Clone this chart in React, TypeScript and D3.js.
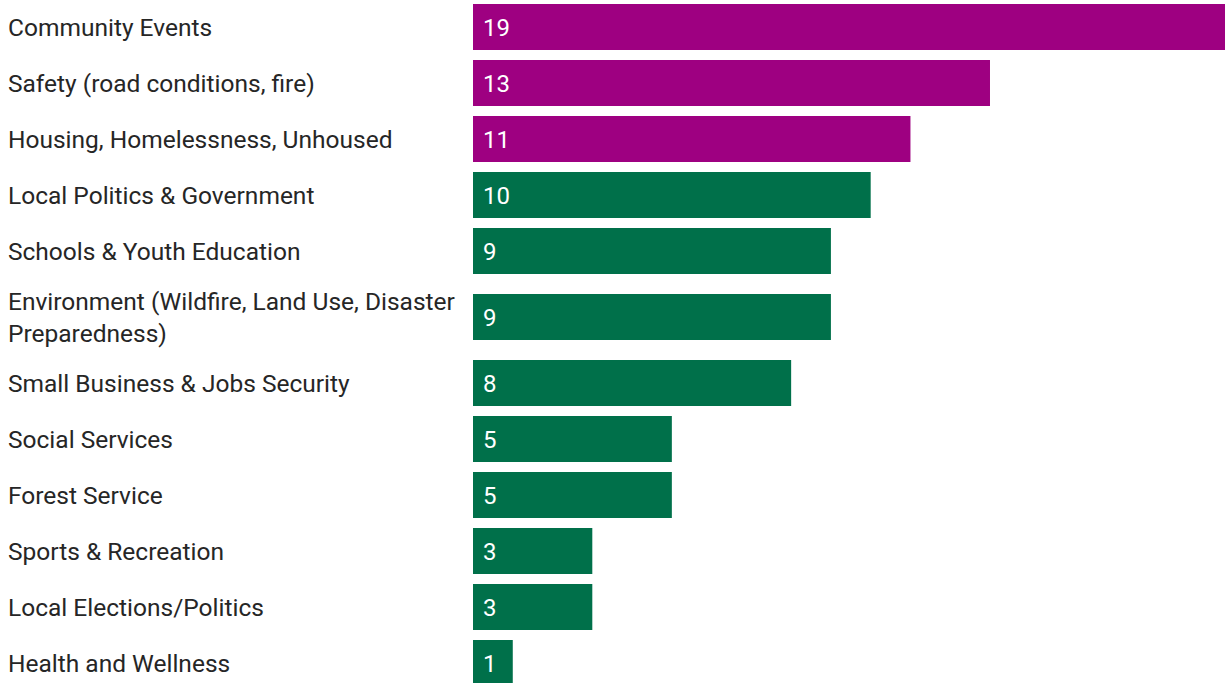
import React from "react";
import * as d3 from "d3";

const categories: string[][] = [
  ["Community Events"],
  ["Safety (road conditions, fire)"],
  ["Housing, Homelessness, Unhoused"],
  ["Local Politics & Government"],
  ["Schools & Youth Education"],
  ["Environment (Wildfire, Land Use, Disaster", "Preparedness)"],
  ["Small Business & Jobs Security"],
  ["Social Services"],
  ["Forest Service"],
  ["Sports & Recreation"],
  ["Local Elections/Politics"],
  ["Health and Wellness"],
];
const values: number[] = [19, 13, 11, 10, 9, 9, 8, 5, 5, 3, 3, 1];
const highlighted: boolean[] = [true, true, true, false, false, false, false, false, false, false, false, false];

const W = 1225;
const H = 683;
const PURPLE = "#9E0081";
const GREEN = "#00704A";

export default function App() {
  const x = d3.scaleLinear().domain([0, 19]).range([473, 1228.6]);
  const barH = 46;
  const baseRow = 56;
  const extraPerLine = 20;
  const rowTops: number[] = [];
  let acc = -1;
  categories.forEach((c) => {
    rowTops.push(acc);
    acc += baseRow + (c.length - 1) * extraPerLine;
  });
  const rowH = (i: number) => baseRow + (categories[i].length - 1) * extraPerLine;
  const lineGap = 32;

  return (
    <svg
      width={W}
      height={H}
      style={{ position: "absolute", left: 0, top: 0, display: "block", background: "#fff" }}
      fontFamily="Roboto, 'Noto Sans', sans-serif"
    >
      {values.map((v, i) => {
        const cy = rowTops[i] + rowH(i) / 2;
        const lines = categories[i];
        return (
          <g key={i}>
            <rect
              x={x(0)}
              y={cy - barH / 2}
              width={x(v) - x(0)}
              height={barH}
              fill={highlighted[i] ? PURPLE : GREEN}
            />
            <text
              x={x(0) + 10}
              y={cy}
              dy="0.36em"
              fill="#fff"
              fontSize={24}
            >
              {v}
            </text>
            {lines.map((ln, j) => (
              <text
                key={j}
                x={8}
                y={cy + (j - (lines.length - 1) / 2) * lineGap}
                dy="0.36em"
                fill="#262626"
                fontSize={24.5}
              >
                {ln}
              </text>
            ))}
          </g>
        );
      })}
    </svg>
  );
}
